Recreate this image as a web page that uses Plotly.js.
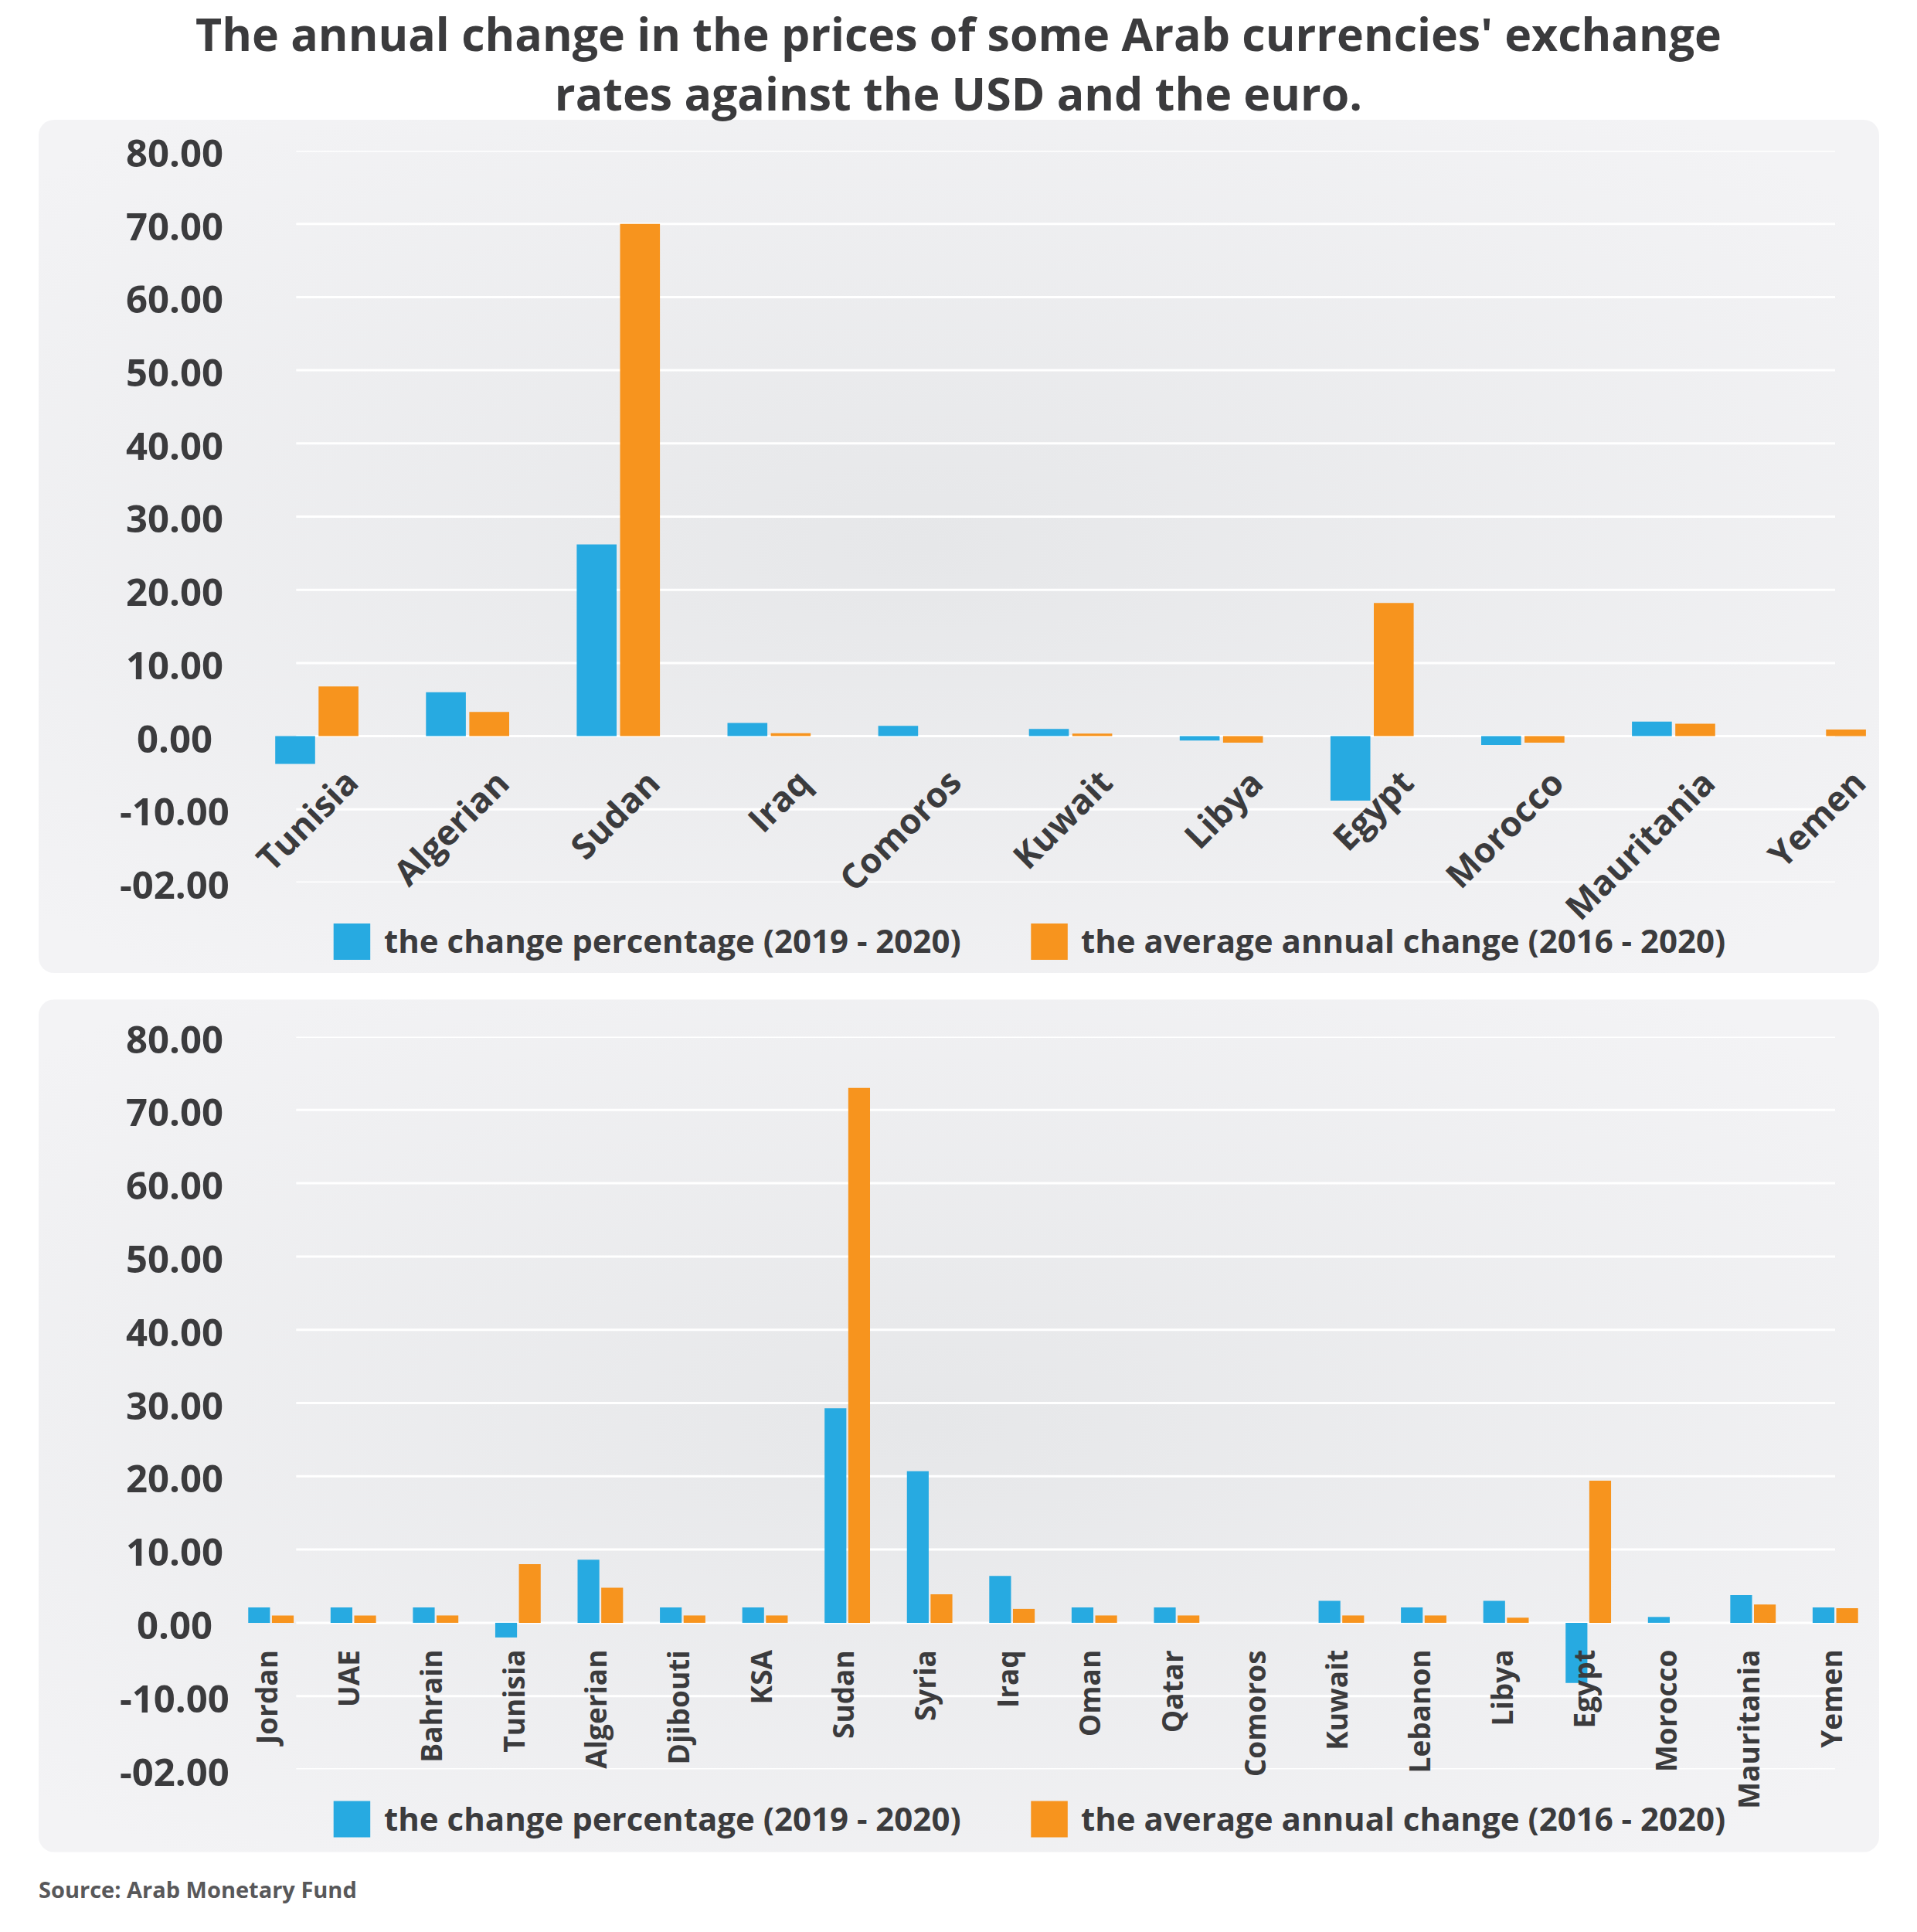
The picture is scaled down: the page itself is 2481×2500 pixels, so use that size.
<!DOCTYPE html>
<html><head><meta charset="utf-8">
<script src="https://cdn.plot.ly/plotly-3.0.1.min.js"></script>
<style>html,body{margin:0;padding:0;background:#fff}</style>
</head><body><div id="chart" style="width:2481px;height:2500px"></div>
<script>
// ---------------- data ----------------
const TITLE = "The annual change in the prices of some Arab currencies' exchange<br>rates against the USD and the euro.";
const SOURCE = "Source: Arab Monetary Fund";
const SERIES_NAMES = ["the change percentage (2019 - 2020)", "the average annual change (2016 - 2020)"];

const TOP_CATEGORIES = ["Tunisia","Algerian","Sudan","Iraq","Comoros","Kuwait","Libya","Egypt","Morocco","Mauritania","Yemen"];
const TOP_CHANGE  = [-3.8, 6.0, 26.2, 1.8, 1.4, 1.0, -0.6, -8.8, -1.2, 2.0, 0];
const TOP_AVERAGE = [6.8, 3.3, 70.0, 0.4, 0, 0.35, -0.9, 18.2, -0.9, 1.7, 0.9];

const BOTTOM_CATEGORIES = ["Jordan","UAE","Bahrain","Tunisia","Algerian","Djibouti","KSA","Sudan","Syria","Iraq","Oman","Qatar","Comoros","Kuwait","Lebanon","Libya","Egypt","Morocco","Mauritania","Yemen"];
const BOTTOM_CHANGE  = [2.1, 2.1, 2.1, -2.0, 8.6, 2.1, 2.1, 29.3, 20.7, 6.4, 2.1, 2.1, 0, 3.0, 2.1, 3.0, -8.2, 0.8, 3.8, 2.1];
const BOTTOM_AVERAGE = [1.0, 1.0, 1.0, 8.0, 4.8, 1.0, 1.0, 73.0, 3.9, 1.9, 1.0, 1.0, 0, 1.0, 1.0, 0.7, 19.4, 0, 2.5, 2.0];

const Y_TICK_VALUES = [-20, -10, 0, 10, 20, 30, 40, 50, 60, 70, 80];
const Y_TICK_TEXT = ["-02.00","-10.00","0.00","10.00","20.00","30.00","40.00","50.00","60.00","70.00","80.00"];

// ---------------- style ----------------
const W = 2481, H = 2500;
const fx = px => px / W;
const fy = py => 1 - py / H;
const BLUE = "#27aae1", ORANGE = "#f7941e", TEXT = "#3b3b3d";
const FONT = "Open Sans, sans-serif";
const COLORS = [BLUE, ORANGE];

function panelSvg(w, h) {
  const svg = '<svg xmlns="http://www.w3.org/2000/svg" width="' + w + '" height="' + h + '" viewBox="0 0 ' + w + ' ' + h + '">' +
    '<defs><radialGradient id="g" cx="48%" cy="50%" r="65%">' +
    '<stop offset="0" stop-color="#e6e7e9"/><stop offset="1" stop-color="#f3f3f5"/></radialGradient></defs>' +
    '<rect x="0" y="0" width="' + w + '" height="' + h + '" rx="20" ry="20" fill="url(#g)"/></svg>';
  return 'data:image/svg+xml;base64,' + btoa(svg);
}

const panels = [
  {x: 50, y: 155, w: 2382, h: 1104, xa: 'x', ya: 'y', legendY: 1218.5, cats: TOP_CATEGORIES, series: [TOP_CHANGE, TOP_AVERAGE]},
  {x: 50, y: 1293.3, w: 2382, h: 1103.4, xa: 'x2', ya: 'y2', legendY: 2354, cats: BOTTOM_CATEGORIES, series: [BOTTOM_CHANGE, BOTTOM_AVERAGE]}
];

const traces = [];
const images = [];
const shapes = [];
const annotations = [];

panels.forEach((p, pi) => {
  images.push({source: panelSvg(p.w, p.h), xref: 'paper', yref: 'paper', x: fx(p.x), y: fy(p.y),
    sizex: p.w / W, sizey: p.h / H, xanchor: 'left', yanchor: 'top', sizing: 'stretch', layer: 'below'});

  p.series.forEach((vals, si) => {
    traces.push({type: 'bar', x: p.cats, y: vals, name: SERIES_NAMES[si], xaxis: p.xa, yaxis: p.ya,
      marker: {color: COLORS[si], line: {width: 0}}, hoverinfo: 'skip', showlegend: false});
  });

  // gridlines + y tick labels
  Y_TICK_VALUES.forEach((v, i) => {
    shapes.push({type: 'line', xref: 'paper', yref: p.ya, x0: fx(383.3), x1: fx(2375), y0: v, y1: v,
      line: {color: '#ffffff', width: 3}, layer: 'below'});
    annotations.push({xref: 'paper', yref: p.ya, x: fx(226), y: v, text: Y_TICK_TEXT[i], showarrow: false,
      xanchor: 'center', yanchor: 'middle', yshift: -2, borderpad: 0,
      font: {family: FONT, size: 49, weight: 700, color: TEXT}});
  });

  // category labels
  p.cats.forEach(c => {
    if (pi === 0) {
      annotations.push({xref: p.xa, yref: p.ya, x: c, y: 0, text: c, showarrow: false, textangle: -45,
        xanchor: 'right', yanchor: 'top', xshift: 67, yshift: -28, borderpad: 0,
        font: {family: FONT, size: 45, weight: 700, color: TEXT}});
    } else {
      annotations.push({xref: p.xa, yref: p.ya, x: c, y: 0, text: c, showarrow: false, textangle: -90,
        xanchor: 'center', yanchor: 'top', xshift: -6, yshift: -34, borderpad: 0,
        font: {family: FONT, size: 37, weight: 700, color: TEXT}});
    }
  });

  // legend (custom, large squares)
  const legendItems = [{sq: 431.7, tx: 496}, {sq: 1334.3, tx: 1398.3}];
  legendItems.forEach((it, si) => {
    shapes.push({type: 'rect', xref: 'paper', yref: 'paper', x0: fx(it.sq), x1: fx(it.sq + 47.5),
      y0: fy(p.legendY - 23.5), y1: fy(p.legendY + 23.5), fillcolor: COLORS[si], line: {width: 0}, layer: 'above'});
    annotations.push({xref: 'paper', yref: 'paper', x: fx(it.tx), y: fy(p.legendY - 2), text: SERIES_NAMES[si],
      showarrow: false, xanchor: 'left', yanchor: 'middle', borderpad: 0,
      font: {family: FONT, size: 42, weight: 700, color: TEXT}});
  });
});

annotations.push({xref: 'paper', yref: 'paper', x: fx(49), y: fy(2444), text: SOURCE, showarrow: false,
  xanchor: 'left', yanchor: 'middle', borderpad: 0, font: {family: FONT, size: 29, weight: 700, color: '#58585a'}});

const axisCommon = {showticklabels: false, showgrid: false, zeroline: false, showline: false, ticks: '', fixedrange: true};

const layout = {
  width: W, height: H,
  margin: {l: 0, r: 0, t: 0, b: 0, pad: 0},
  paper_bgcolor: '#ffffff', plot_bgcolor: 'rgba(0,0,0,0)',
  showlegend: false,
  barmode: 'group', bargap: 0.425, bargroupgap: 0.08,
  title: {text: TITLE, font: {family: FONT, size: 59, weight: 700, color: TEXT},
    x: 0.5, xanchor: 'center', xref: 'container', y: 1 - 66 / H, yanchor: 'top', yref: 'container', pad: {t: 0, b: 0, l: 0, r: 0}},
  xaxis: Object.assign({}, axisCommon, {domain: [fx(312.5), fx(2458.6)], anchor: 'y', type: 'category', range: [-0.5, 10.5]}),
  yaxis: Object.assign({}, axisCommon, {domain: [fy(1142), fy(195)], anchor: 'x', range: [-20, 80]}),
  xaxis2: Object.assign({}, axisCommon, {domain: [fx(297.4), fx(2428.6)], anchor: 'y2', type: 'category', range: [-0.5, 19.5]}),
  yaxis2: Object.assign({}, axisCommon, {domain: [fy(2289.5), fy(1341.5)], anchor: 'x2', range: [-20, 80]}),
  images: images, shapes: shapes, annotations: annotations
};

Plotly.newPlot('chart', traces, layout, {displayModeBar: false, staticPlot: true});
</script>
</body></html>
